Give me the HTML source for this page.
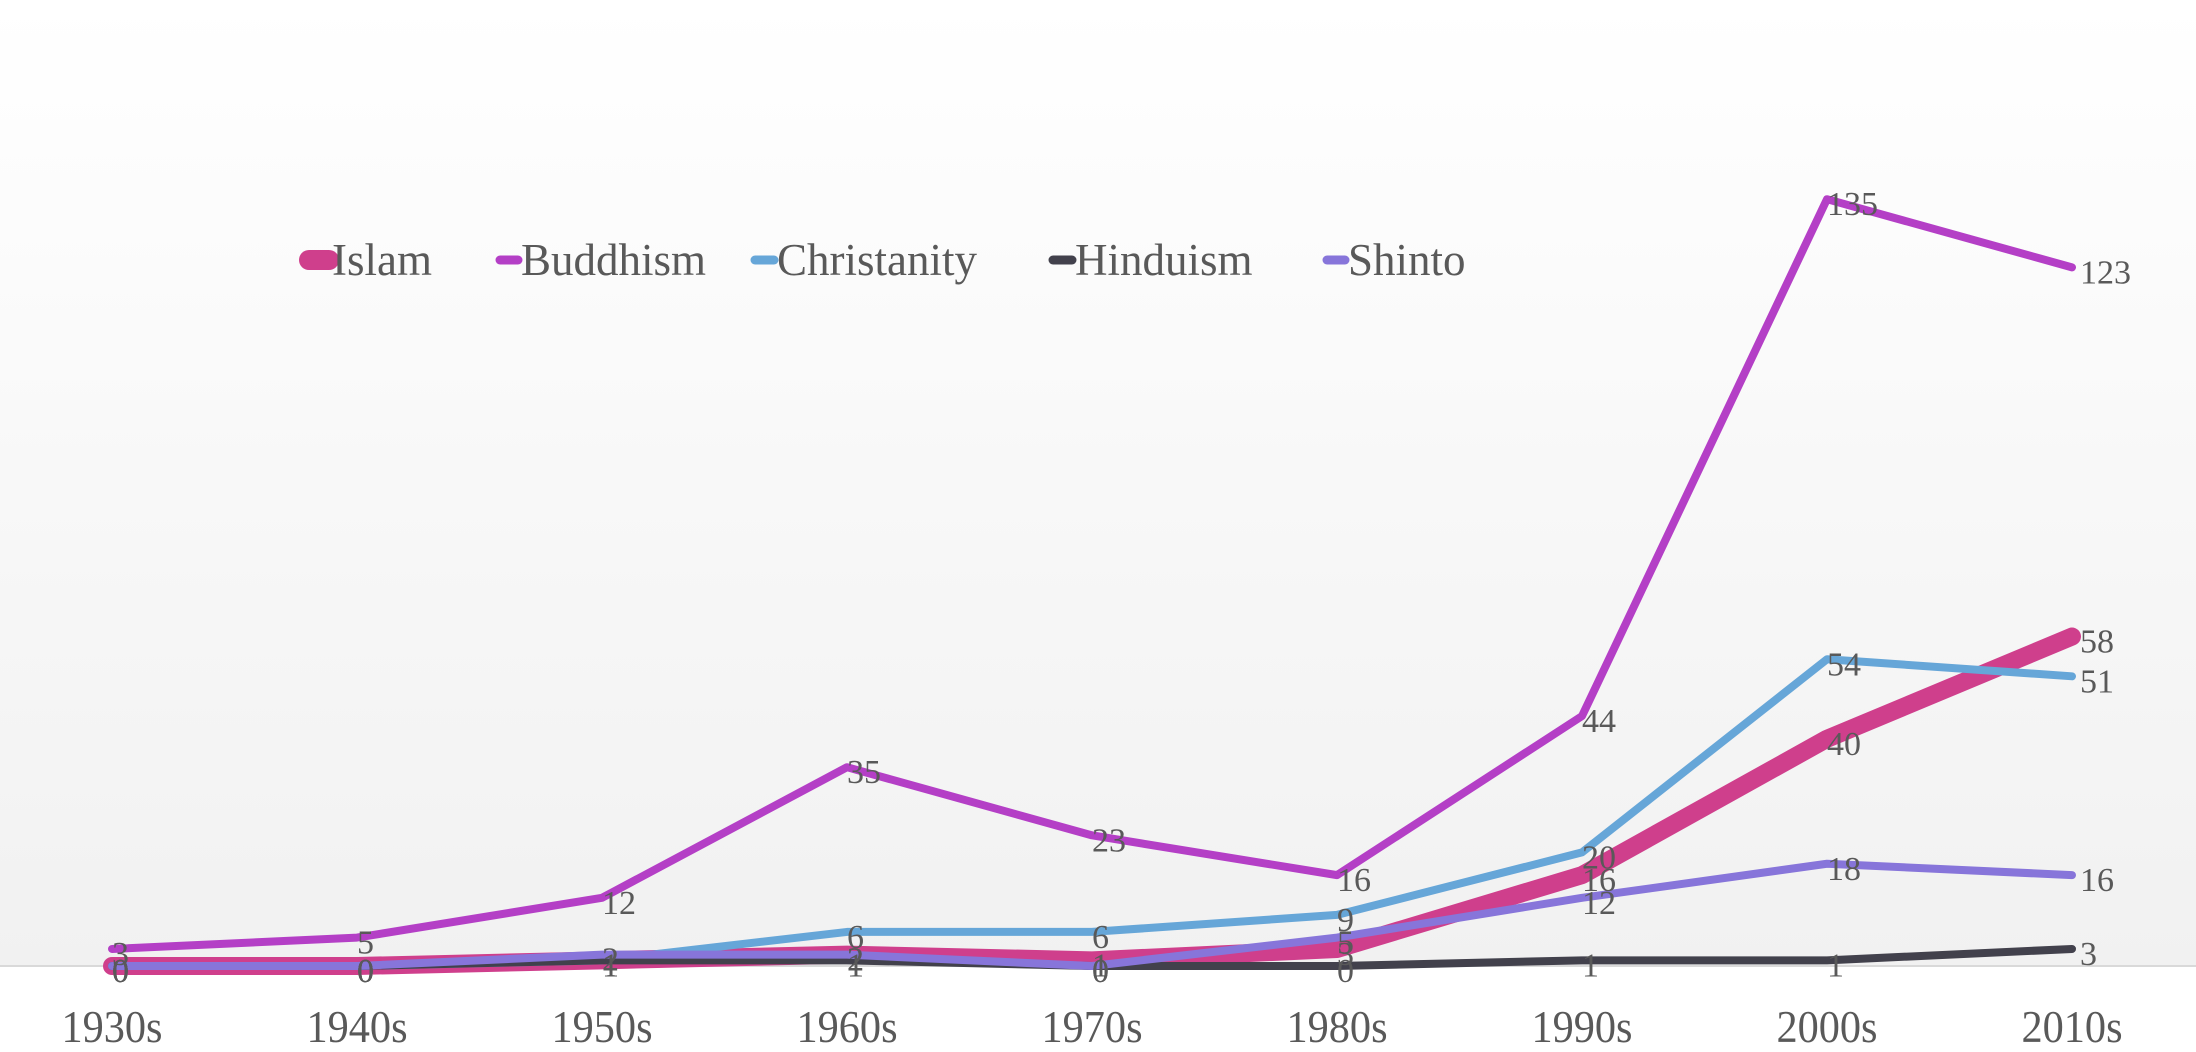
<!DOCTYPE html>
<html><head><meta charset="utf-8"><style>
html,body{margin:0;padding:0;background:#fff}
svg{display:block}
text{font-family:"Liberation Serif",serif;fill:#595959}
</style></head><body>
<svg id="chart" width="2196" height="1052" viewBox="0 0 2196 1052" xmlns="http://www.w3.org/2000/svg">
<defs><linearGradient id="bg" x1="0" y1="0" x2="0" y2="1">
<stop offset="0" stop-color="#ffffff"/><stop offset="1" stop-color="#f1f1f1"/></linearGradient></defs>
<rect x="0" y="0" width="2196" height="966" fill="url(#bg)"/>
<line x1="0" y1="966" x2="2196" y2="966" stroke="#d9d9d9" stroke-width="2"/>
<g id="xticks"></g><g id="series"></g><g id="labels"></g><g id="legend"></g>
</svg>
<script>
const categories=["1930s","1940s","1950s","1960s","1970s","1980s","1990s","2000s","2010s"];
const islam=[0,0,1,2,1,3,16,40,58];
const buddhism=[3,5,12,35,23,16,44,135,123];
const christianity=[0,0,1,6,6,9,20,54,51];
const hinduism=[0,0,1,1,0,0,1,1,3];
const shinto=[0,0,2,2,0,5,12,18,16];
const seriesNames=["Islam","Buddhism","Christanity","Hinduism","Shinto"];
const NS="http://www.w3.org/2000/svg";
function X(i){return 112+i*245;}
function Y(v){return 966-v*5.68;}
function mk(tag,attrs,parent){const e=document.createElementNS(NS,tag);for(const k in attrs)e.setAttribute(k,attrs[k]);parent.appendChild(e);return e;}
const xt=document.getElementById('xticks');
categories.forEach((c,i)=>{const t=mk('text',{x:X(i),y:1042,'text-anchor':'middle','font-size':46,transform:'translate('+X(i)+',0) scale(0.92,1) translate('+(-X(i))+',0)'},xt);t.textContent=c;

});
const defs=[
 {name:"islam",vals:islam,color:"#cf3f8c",w:18},
 {name:"buddhism",vals:buddhism,color:"#b43fc6",w:8},
 {name:"christianity",vals:christianity,color:"#66a6d8",w:8},
 {name:"hinduism",vals:hinduism,color:"#42414c",w:8},
 {name:"shinto",vals:shinto,color:"#8775da",w:8}];
const sg=document.getElementById('series'),lg=document.getElementById('labels');
defs.forEach(d=>{
 const p=mk('polyline',{points:d.vals.map((v,i)=>X(i)+','+Y(v)).join(' '),fill:'none',stroke:d.color,'stroke-width':d.w,'stroke-linejoin':'round','stroke-linecap':'round'},sg);
 
 
 d.vals.forEach((v,i)=>{const t=mk('text',{x:X(i)+(i==8?8:0),y:Y(v)+16,'font-size':34},lg);t.textContent=v;
 
 });
});
const lgx=[[301,332],[497,521],[752,777],[1050,1075],[1324,1348]];
const leg=document.getElementById('legend');
defs.forEach((d,i)=>{
 const g=mk('g',{},leg);
 
 
 mk('line',{x1:lgx[i][0]+(i==0?8:3),y1:260,x2:lgx[i][1]-3,y2:260,stroke:d.color,'stroke-width':i==0?20:9,'stroke-linecap':'round'},g);
 const t=mk('text',{x:lgx[i][1],y:275,'font-size':45},g);t.textContent=seriesNames[i];
});
</script>
</body></html>
